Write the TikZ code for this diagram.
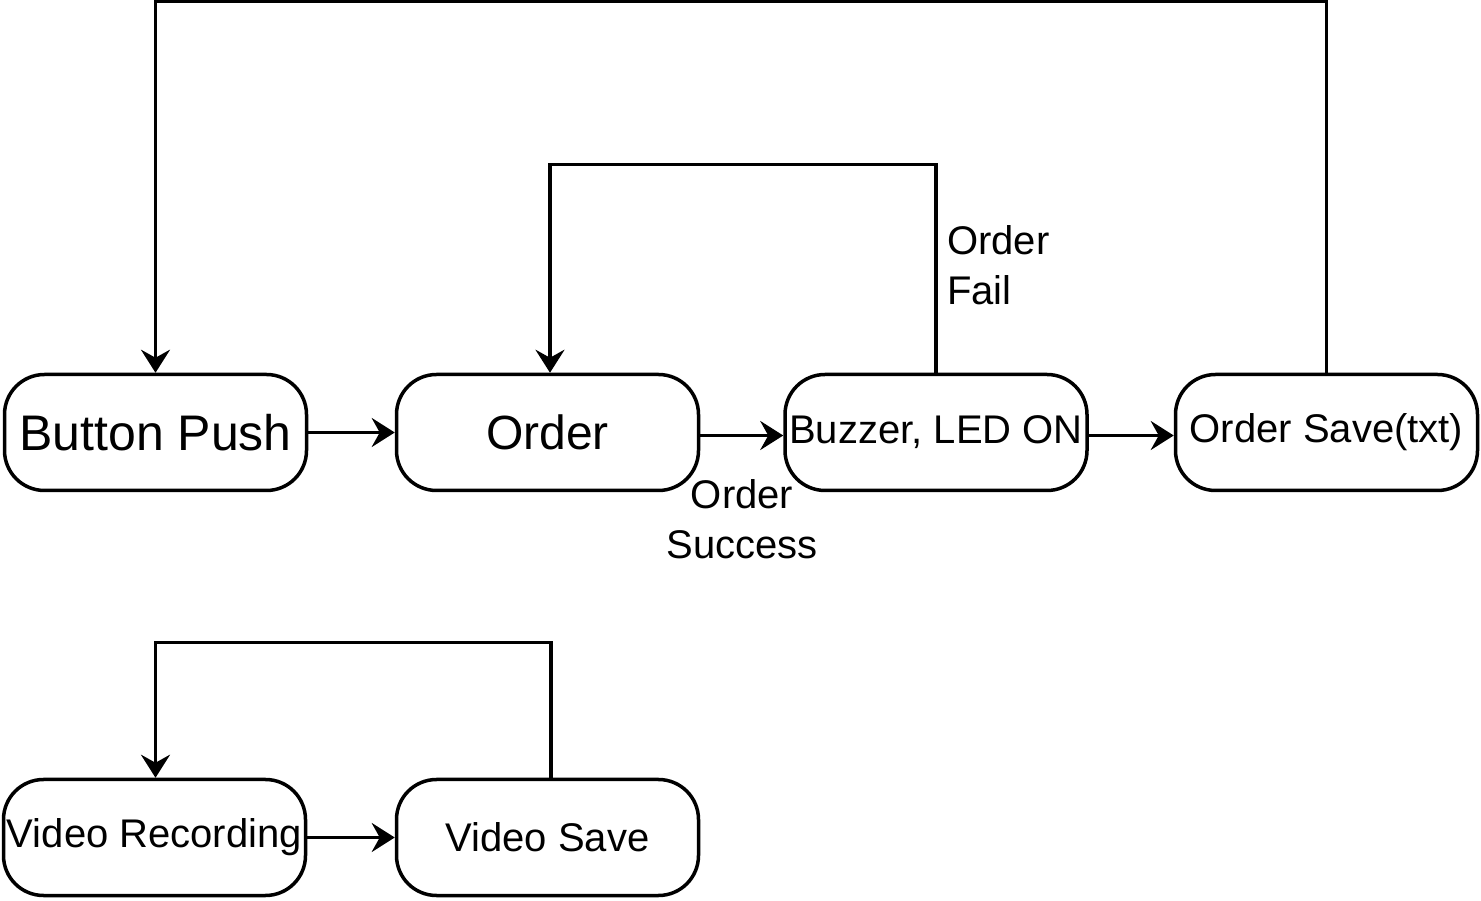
\documentclass[tikz,border=0pt]{standalone}
\usepackage{fontspec}
\setmainfont{Liberation Sans}
\usetikzlibrary{arrows.meta}
\begin{document}
\begin{tikzpicture}[x=1pt,y=1pt,
  box/.style={draw=black, line width=3.5pt, rounded corners=40pt, minimum width=302pt, minimum height=116pt, inner sep=0pt, font=\fontsize{40}{50}\selectfont},
  conn/.style={line width=3.5pt, -{Stealth[length=23pt,width=29pt,inset=8pt]}},
  lbl/.style={inner sep=0pt, font=\fontsize{40}{50}\selectfont}]
\useasboundingbox (0,0) rectangle (1481,900);
\node[box, font=\fontsize{50}{60}\selectfont] (bp) at (155.5,467.5) {Button Push};
\node[box, font=\fontsize{48}{58}\selectfont] (ord) at (547.5,467.5) {Order};
\node[box] (buz) at (936,467.5) {Buzzer, LED ON};
\node[box] (sav) at (1326.5,467.5) {Order Save(txt)};
\node[box] (vr) at (154.5,62.5) {Video Recording};
\node[box] (vs) at (547.5,62.5) {Video Save};
\draw[conn] (bp.east) -- (ord.west);
\draw[conn] ([yshift=-3pt]ord.east) -- ([yshift=-3pt]buz.west);
\draw[conn] ([yshift=-3pt]buz.east) -- ([yshift=-3pt]sav.west);
\draw[conn] (vr.east) -- (vs.west);
\draw[conn] (buz.north) -- ++(0,208) -| ([xshift=2.5pt]ord.north);
\draw[conn] (sav.north) -- ++(0,371) -| (bp.north);
\draw[conn] ([xshift=3.5pt]vs.north) -- ++(0,135) -| ([xshift=1pt]vr.north);
\node[lbl, anchor=west, align=left] (fail) at (947,635) {Order\\Fail};
\node[lbl, align=center] (succ) at (742,381) {Order\\Success};
\end{tikzpicture}
\end{document}
